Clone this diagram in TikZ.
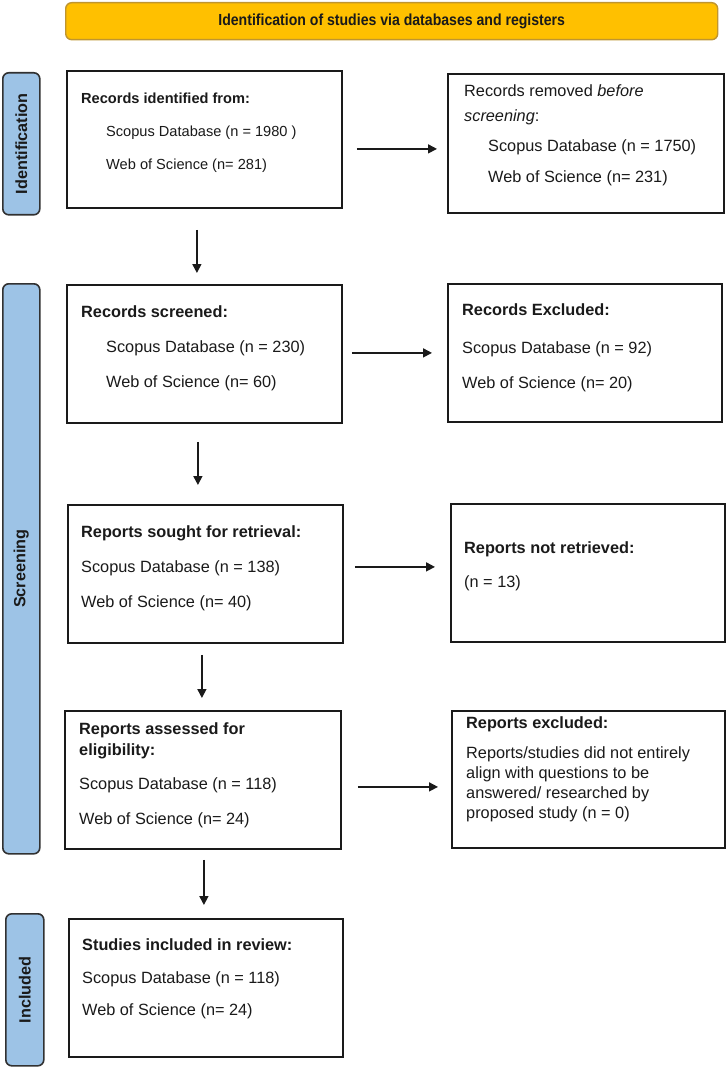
\documentclass[tikz,border=0pt]{standalone}
\usepackage{fontspec}
\setmainfont{Liberation Sans}
\usetikzlibrary{arrows.meta}
\definecolor{bannerfill}{HTML}{FFC000}
\definecolor{bannerline}{HTML}{BF9530}
\definecolor{labfill}{HTML}{9DC3E6}
\definecolor{ink}{HTML}{1A1A1A}
\tikzset{
  boxst/.style={draw=ink, line width=1.8pt, fill=white, anchor=north west, inner sep=0pt},
  labst/.style={draw=ink!90, line width=1.6pt, fill=labfill, rounded corners=6pt, anchor=north west, inner sep=0pt},
  bannerst/.style={draw=bannerline, line width=1.4pt, fill=bannerfill, rounded corners=6pt, anchor=north west, inner sep=0pt},
  txt/.style={anchor=base west, inner sep=0pt, text=ink, font=\fontsize{16.3}{20}\selectfont},
  txts/.style={anchor=base west, inner sep=0pt, text=ink, font=\fontsize{14.6}{18}\selectfont},
  labtxt/.style={rotate=90, inner sep=0pt, text=ink, font=\fontsize{16.2}{19}\selectfont\bfseries},
  arr/.style={draw=ink, line width=1.6pt, -{Triangle[length=9pt,width=9pt]}}
}
\begin{document}
\begin{tikzpicture}[x=1pt,y=-1pt]
\useasboundingbox (0,0) rectangle (726,1067);
% banner
\node[bannerst, minimum width=652pt, minimum height=37pt] (ban) at (65,2) {};
\node[inner sep=0pt, text=ink, font=\fontsize{16}{18}\selectfont\bfseries] (bantxt) at (ban.center) {\scalebox{0.88}[1]{Identification of studies via databases and registers}};
% side labels
\node[labst, minimum width=37pt, minimum height=142pt] (L1) at (2,72) {};
\node[labtxt] (L1t) at (L1.center) {Identification};
\node[labst, minimum width=37pt, minimum height=570pt] (L2) at (2,283) {};
\node[labtxt] (L2t) at (L2.center) {Screening};
\node[labst, minimum width=38pt, minimum height=152pt] (L3) at (5,913) {};
\node[labtxt] (L3t) at (L3.center) {Included};
% boxes
\node[boxst, minimum width=275pt, minimum height=137pt] (b1) at (66,70) {};
\node[boxst, minimum width=276pt, minimum height=139pt] (b2) at (447,73) {};
\node[boxst, minimum width=275pt, minimum height=138pt] (b3) at (66,284) {};
\node[boxst, minimum width=274pt, minimum height=138pt] (b4) at (447,283) {};
\node[boxst, minimum width=275pt, minimum height=138pt] (b5) at (67,504) {};
\node[boxst, minimum width=274pt, minimum height=138pt] (b6) at (450,503) {};
\node[boxst, minimum width=276pt, minimum height=138pt] (b7) at (64,710) {};
\node[boxst, minimum width=273pt, minimum height=137pt] (b8) at (451,710) {};
\node[boxst, minimum width=274pt, minimum height=138pt] (b9) at (68,918) {};
% box 1
\node[txts] (t1a) at (81,104) {\bfseries Records identified from:};
\node[txts] (t1b) at (106,137) {Scopus Database (n = 1980 )};
\node[txts] (t1c) at (106,170) {Web of Science (n= 281)};
% box 2
\node[txt] (t2a) at (464,97) {Records removed \textit{before}};
\node[txt] (t2b) at (464,122) {\textit{screening}:};
\node[txt] (t2c) at (488,152) {Scopus Database (n = 1750)};
\node[txt] (t2d) at (488,183) {Web of Science (n= 231)};
% box 3
\node[txt] (t3a) at (81,317) {\bfseries Records screened:};
\node[txt] (t3b) at (106,352) {Scopus Database (n = 230)};
\node[txt] (t3c) at (106,387) {Web of Science (n= 60)};
% box 4
\node[txt] (t4a) at (462,315) {\bfseries Records Excluded:};
\node[txt] (t4b) at (462,353) {Scopus Database (n = 92)};
\node[txt] (t4c) at (462,388) {Web of Science (n= 20)};
% box 5
\node[txt] (t5a) at (81,537) {\bfseries Reports sought for retrieval:};
\node[txt] (t5b) at (81,572) {Scopus Database (n = 138)};
\node[txt] (t5c) at (81,607) {Web of Science (n= 40)};
% box 6
\node[txt] (t6a) at (464,553) {\bfseries Reports not retrieved:};
\node[txt] (t6b) at (464,587) {(n = 13)};
% box 7
\node[txt] (t7a) at (79,734) {\bfseries Reports assessed for};
\node[txt] (t7b) at (79,755) {\bfseries eligibility:};
\node[txt] (t7c) at (79,789) {Scopus Database (n = 118)};
\node[txt] (t7d) at (79,824) {Web of Science (n= 24)};
% box 8
\node[txt] (t8a) at (466,728) {\bfseries Reports excluded:};
\node[txt] (t8b) at (466,758) {Reports/studies did not entirely};
\node[txt] (t8c) at (466,778) {align with questions to be};
\node[txt] (t8d) at (466,798) {answered/ researched by};
\node[txt] (t8e) at (466,818) {proposed study (n = 0)};
% box 9
\node[txt] (t9a) at (82,950) {\bfseries Studies included in review:};
\node[txt] (t9b) at (82,983) {Scopus Database (n = 118)};
\node[txt] (t9c) at (82,1015) {Web of Science (n= 24)};
% horizontal arrows
\draw[arr, shorten <=14pt, shorten >=10pt] ([yshift=-9.5pt]b1.east) -- ([yshift=-9.5pt]b1.east -| b2.west);
\draw[arr, shorten <=9pt, shorten >=15pt] ([yshift=1pt]b3.east) -- ([yshift=1pt]b3.east -| b4.west);
\draw[arr, shorten <=11pt, shorten >=15pt] ([yshift=7pt]b5.east) -- ([yshift=7pt]b5.east -| b6.west);
\draw[arr, shorten <=16pt, shorten >=13pt] ([yshift=-7pt]b7.east) -- ([yshift=-7pt]b7.east -| b8.west);
% vertical arrows
\draw[arr, shorten <=21pt, shorten >=11pt] ([xshift=-7.5pt]b1.south) -- ([xshift=-7.5pt]b1.south |- b3.north);
\draw[arr, shorten <=18pt, shorten >=19pt] ([xshift=-6.5pt]b3.south) -- ([xshift=-6.5pt]b3.south |- b5.north);
\draw[arr, shorten <=11pt, shorten >=12pt] ([xshift=-3.5pt]b5.south) -- ([xshift=-3.5pt]b5.south |- b7.north);
\draw[arr, shorten <=10pt, shorten >=13pt] ([xshift=1pt]b7.south) -- ([xshift=1pt]b7.south |- b9.north);
\end{tikzpicture}
\end{document}
